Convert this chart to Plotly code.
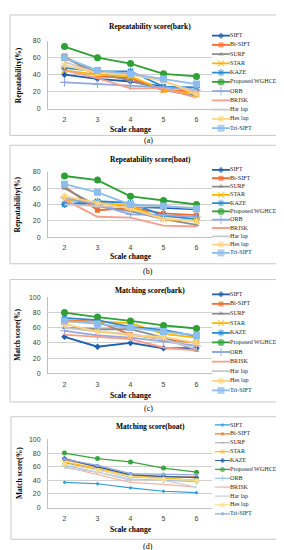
import plotly.graph_objects as go

# ---------------- data ----------------
methods = ["SIFT", "Bi-SIFT", "SURF", "STAR", "KAZE", "Proposed WGHCD",
           "ORB", "BRISK", "Har lap", "Hes lap", "Tri-SIFT"]
scales = [2, 3, 4, 5, 6]

rep_bark = [
    [40, 35, 32, 26, 22],   # SIFT
    [62, 38, 36, 22, 20],   # Bi-SIFT
    [60, 42, 33, 22, 15],   # SURF
    [45, 40, 38, 22, 18],   # STAR
    [48, 44, 44, 26, 25],   # KAZE
    [73, 60, 53, 41, 38],   # WGHCD
    [31, 29, 27, 25, 22],   # ORB
    [45, 36, 24, 24, 13],   # BRISK
    [55, 42, 42, 32, 20],   # Har lap
    [51, 42, 40, 33, 17],   # Hes lap
    [60, 45, 41, 35, 29],   # Tri-SIFT
]
rep_boat = [
    [40, 42, 37, 36, 34],
    [62, 33, 36, 29, 27],
    [60, 38, 32, 22, 15],
    [45, 43, 38, 22, 20],
    [40, 44, 42, 26, 22],
    [75, 70, 50, 45, 40],
    [48, 40, 28, 27, 25],
    [46, 25, 24, 14, 13],
    [40, 38, 37, 38, 36],
    [50, 42, 35, 22, 20],
    [65, 55, 40, 38, 35],
]
match_bark = [
    [48, 35, 40, 33, 33],
    [70, 68, 51, 45, 40],
    [60, 58, 58, 47, 30],
    [68, 68, 66, 52, 47],
    [73, 70, 61, 57, 49],
    [80, 74, 69, 63, 59],
    [56, 50, 47, 42, 36],
    [51, 48, 45, 34, 30],
    [60, 55, 52, 45, 32],
    [65, 55, 50, 48, 40],
    [69, 65, 60, 55, 50],
]
match_boat = [
    [37, 35, 29, 24, 22],
    [70, 60, 48, 45, 45],
    [66, 55, 45, 43, 40],
    [67, 58, 47, 44, 40],
    [72, 60, 48, 46, 44],
    [80, 72, 67, 58, 52],
    [62, 52, 42, 40, 38],
    [60, 48, 37, 34, 30],
    [58, 52, 40, 40, 30],
    [64, 55, 46, 42, 40],
    [71, 62, 50, 49, 48],
]

titles = ["Repeatability score(bark)", "Repeatability score(boat)",
          "Matching score(bark)", "Matching score(boat)"]
ytitles = ["Repeatability(%)", "Repeatability(%)", "Match score(%)", "Match score(%)"]
labels = ["(a)", "(b)", "(c)", "(d)"]
ymax = [80, 80, 100, 100]
panels = [rep_bark, rep_boat, match_bark, match_boat]

# ---------------- styles ----------------
colors_abc = ["#1F5FAE", "#F26B2F", "#8C8C8C", "#FFB300", "#2A8AD0", "#2FA134",
              "#8FA9E0", "#F79E8A", "#C8C8C8", "#FFD27F", "#8DBDEB"]
colors_d = ["#2F9BD7", "#ED7D31", "#A5A5A5", "#FFC000", "#2F5EA8", "#3AA53A",
            "#9DC3E6", "#F8B4A0", "#CFCFCF", "#FFE08A", "#8EA9DB"]
symbols = ["diamond", "square", "triangle-up", "x-thin-open", "asterisk-open",
           "circle", "cross-thin-open", None, None, "asterisk-open", "square"]
open_sym = {"x-thin-open", "asterisk-open", "cross-thin-open"}
filled_size = {"circle": 7, "square": 5, "diamond": 5, "triangle-up": 5}

W, H = 284, 550
def px(x):
    return x / W
def py(y):
    return 1 - y / H

# layout geometry (pixels)
plot_x = (40, 205)
plot_y = [(29, 98), (162, 228), (289, 366), (433, 502)]
leg_items = [(24, 117.7), (160, 244), (286, 383.3), (418.3, 508.3)]
boxes = [(2, 3, 279, 125), (2, 135, 279, 255), (2, 271, 279, 395), (3, 410, 282, 534)]
title_y = [15, 149, 282, 420]
xtitle_y = [119, 248, 388, 524]
ytitle_pos = [(10, 64), (10, 195), (10, 327), (11, 467)]
lab_y = [130, 263, 402, 541]

SERIF = "Liberation Serif"
SANS = "Liberation Sans"

fig = go.Figure()
layout = dict(width=W, height=H, margin=dict(l=0, r=0, t=0, b=0),
              paper_bgcolor="white", plot_bgcolor="white", showlegend=False,
              shapes=[], annotations=[])

for p in range(4):
    data = panels[p]
    small = (p == 3)
    cols = colors_d if small else colors_abc
    ax = 2 * p + 1
    lx = 2 * p + 2
    xa = "x" if ax == 1 else f"x{ax}"
    ya = "y" if ax == 1 else f"y{ax}"
    xl = f"x{lx}"
    yl = f"y{lx}"
    lw = 1.2 if small else 1.8
    for i, name in enumerate(methods):
        c = cols[i]
        sym = symbols[i]
        if sym is None:
            mode = "lines"
            marker = dict()
        else:
            mode = "lines+markers"
            if sym in open_sym:
                sz = 4 if small else 6
                marker = dict(symbol=sym, size=sz, color=c, line=dict(color=c, width=1.2))
            else:
                sz = filled_size[sym]
                if small:
                    sz = sz - 2
                if i == 10 and not small:
                    sz = 7
                marker = dict(symbol=sym, size=sz, color=c, line=dict(width=0))
        fig.add_trace(go.Scatter(x=scales, y=data[i], mode=mode, name=name,
                                 line=dict(color=c, width=lw), marker=marker,
                                 xaxis=xa, yaxis=ya, cliponaxis=False))
        # pseudo-legend sample
        xs = [3, 10.5, 18] if small else [0, 9, 18]
        lmarker = dict(marker)
        if sym is not None:
            lmarker["size"] = [0, lmarker["size"], 0]
        fig.add_trace(go.Scatter(x=xs, y=[i, i, i], mode=mode,
                                 line=dict(color=c, width=lw), marker=lmarker,
                                 xaxis=xl, yaxis=yl, hoverinfo="skip",
                                 cliponaxis=False))
    tx = 18
    fig.add_trace(go.Scatter(x=[tx] * len(methods), y=list(range(len(methods))),
                             mode="text", text=methods, textposition="middle right",
                             textfont=dict(family=SERIF, size=6.1, color="#262626"),
                             xaxis=xl, yaxis=yl, hoverinfo="skip", cliponaxis=False))

    # main axes
    y0, y1 = plot_y[p]
    layout["xaxis" if ax == 1 else f"xaxis{ax}"] = dict(
        domain=[px(plot_x[0]), px(plot_x[1])], range=[1.5, 6.5], anchor=ya,
        tickvals=scales, ticks="", showgrid=False, zeroline=False,
        showline=True, linecolor="#BFBFBF", linewidth=1,
        tickfont=dict(family=SANS, size=7, color="#404040"), ticklabelstandoff=4)
    layout["yaxis" if ax == 1 else f"yaxis{ax}"] = dict(
        domain=[py(y1), py(y0)], range=[0, ymax[p]], anchor=xa,
        dtick=20, ticks="", showgrid=True, gridcolor="#D0D0D0", gridwidth=1,
        zeroline=False, showline=True, linecolor="#BFBFBF", linewidth=1,
        tickfont=dict(family=SANS, size=7, color="#404040"), ticklabelstandoff=5)
    # legend axes
    a, b = leg_items[p]
    s = (b - a) / 10
    layout[f"xaxis{lx}"] = dict(domain=[px(204), 1], range=[0, 80], visible=False,
                                anchor=yl, fixedrange=True)
    layout[f"yaxis{lx}"] = dict(domain=[py(b + s / 2), py(a - s / 2)],
                                range=[10.5, -0.5], visible=False, anchor=xl,
                                fixedrange=True)

    # panel box
    bx0, by0, bx1, by1 = boxes[p]
    layout["shapes"].append(dict(type="rect", xref="paper", yref="paper", layer="below",
                                 x0=px(bx0), x1=px(bx1), y0=py(by1), y1=py(by0),
                                 line=dict(color="#C8C8C8", width=1)))
    # texts
    layout["annotations"] += [
        dict(text=f"<b>{titles[p]}</b>", x=px(142), y=py(title_y[p]), xref="paper",
             yref="paper", showarrow=False, xanchor="center", yanchor="middle",
             font=dict(family=SERIF, size=7.5, color="#000000")),
        dict(text="<b>Scale change</b>", x=px(123), y=py(xtitle_y[p]), xref="paper",
             yref="paper", showarrow=False, xanchor="center", yanchor="middle",
             font=dict(family=SERIF, size=7.5, color="#000000")),
        dict(text=f"<b>{ytitles[p]}</b>", x=px(ytitle_pos[p][0]), y=py(ytitle_pos[p][1]),
             xref="paper", yref="paper", showarrow=False, textangle=-90,
             xanchor="center", yanchor="middle",
             font=dict(family=SERIF, size=7.5, color="#000000")),
        dict(text=labels[p], x=px(140), y=py(lab_y[p]), xref="paper", yref="paper",
             showarrow=False, xanchor="center", yanchor="middle",
             font=dict(family=SERIF, size=8, color="#000000")),
    ]

fig.update_layout(**layout)
fig.write_html("out.html")
